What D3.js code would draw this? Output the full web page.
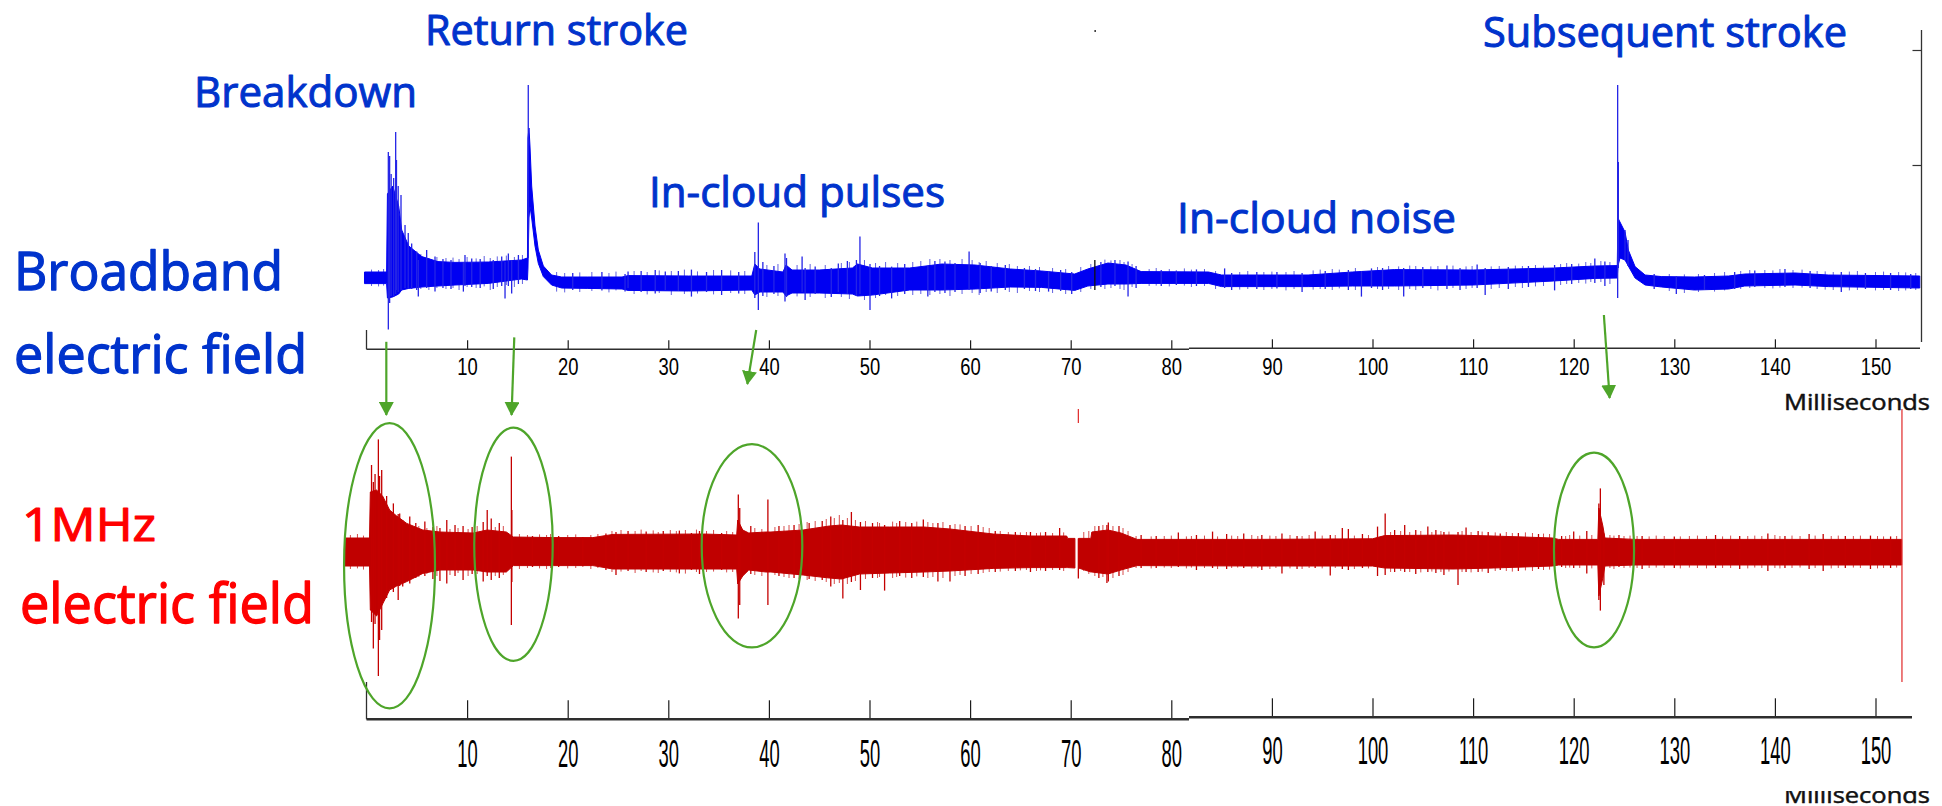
<!DOCTYPE html>
<html>
<head>
<meta charset="utf-8">
<script src="https://cdn.jsdelivr.net/npm/d3@7"></script>
<style>
  html, body { margin: 0; padding: 0; background: #fff; }
  svg { display: block; }
</style>
</head>
<body>
<svg id="chart" width="1942" height="806"></svg>
<script>
// ---------------------------------------------------------------
// Lightning flash record: broadband E-field vs 1 MHz E-field
// time in milliseconds, field in arbitrary units
// ---------------------------------------------------------------

// axis tick values (ms)
const ticksLeft  = [10, 20, 30, 40, 50, 60, 70, 80];
const ticksRight = [90, 100, 110, 120, 130, 140, 150];

// broadband field: noise envelope [time, upper, lower]
const broadbandEnvelope = [
  [-0.2, 0.3, -0.28], [2.0, 0.3, -0.28], [2.08, 4.2, -1.0], [2.6, 4.6, -0.95],
  [3.2, 3.6, -0.8], [3.5, 2.4, -0.6], [4.2, 1.6, -0.52], [5.5, 1.07, -0.45],
  [7.1, 0.82, -0.4], [8.8, 0.78, -0.35], [12.1, 0.8, -0.27], [15.4, 0.9, -0.05],
  [16.0, 1.0, -0.1], [16.05, 7.0, 0.5], [16.15, 7.5, 3.0], [16.25, 6.6, 3.6],
  [16.42, 4.6, 3.0], [16.75, 2.6, 1.6], [17.08, 1.4, 0.73], [17.58, 0.6, 0.07],
  [18.4, 0.15, -0.35], [19.4, 0.05, -0.5], [22.0, 0.05, -0.52], [25.4, 0.05, -0.55],
  [26.0, 0.12, -0.62], [32.0, 0.1, -0.65], [38.3, 0.1, -0.6], [38.6, 0.7, -0.85],
  [39.1, 0.45, -0.7], [41.4, 0.3, -0.7], [41.7, 0.65, -0.9], [42.3, 0.4, -0.75],
  [45.0, 0.4, -0.75], [48.3, 0.5, -0.8], [48.8, 0.7, -0.9], [50.3, 0.5, -0.85],
  [54.0, 0.5, -0.6], [57.2, 0.7, -0.6], [60.5, 0.65, -0.55], [64.0, 0.45, -0.45],
  [67.1, 0.35, -0.47], [70.4, 0.2, -0.62], [71.7, 0.45, -0.4], [73.7, 0.75, -0.3],
  [75.5, 0.65, -0.3], [77.0, 0.32, -0.27], [83.7, 0.3, -0.27], [85.0, 0.15, -0.43],
  [93.6, 0.15, -0.43], [98.0, 0.3, -0.4], [102.2, 0.42, -0.4], [110.0, 0.4, -0.35],
  [118.0, 0.5, -0.15], [122.1, 0.6, -0.02], [124.33, 0.62, 0.0], [124.4, 3.0, 0.6],
  [124.6, 2.8, 1.0], [125.1, 2.3, 0.9], [125.43, 1.4, 0.6], [126.1, 0.57, 0.0],
  [127.1, 0.15, -0.35], [128.75, 0.07, -0.45], [132.0, 0.05, -0.6], [135.4, 0.1, -0.55],
  [137.0, 0.2, -0.4], [142.0, 0.25, -0.35], [145.3, 0.15, -0.43], [154.4, 0.1, -0.5]
];

// broadband field: individual pulses [time, max, min]
const broadbandPulses = [
  [2.17, 6.3, -2.57], [2.3, 6.1, -1.25], [2.45, 5.2, -0.9], [2.7, 5.0, -0.93],
  [2.9, 7.3, -0.8], [2.98, 5.9, -0.6], [3.15, 4.6, -0.7], [3.43, 4.15, -0.6],
  [3.83, 2.65, -0.5], [4.15, 2.25, -0.5], [4.49, 1.73, -0.55], [4.99, 1.32, -0.6],
  [5.15, 0.9, -0.93], [5.98, 1.4, -0.5], [6.81, 1.07, -0.68], [7.6, 0.95, -0.5],
  [8.4, 0.9, -0.55], [9.63, 0.8, -0.68], [9.79, 1.15, -0.4], [10.46, 0.98, -0.45],
  [11.3, 0.95, -0.5], [12.6, 0.9, -0.55], [13.44, 1.07, -0.4], [13.77, 0.8, -1.02],
  [14.1, 1.23, -0.4], [14.43, 0.9, -0.77], [15.1, 1.15, -0.3], [16.08, 9.65, 1.0],
  [20.5, 0.25, -0.6], [23.4, 0.3, -0.62], [25.7, 0.2, -0.68], [26.0, 0.32, -0.5],
  [27.3, 0.35, -0.7], [28.7, 0.4, -0.77], [29.7, 0.32, -0.6], [31.0, 0.35, -0.65],
  [32.3, 0.42, -0.93], [33.8, 0.3, -0.7], [35.3, 0.4, -0.85], [37.0, 0.3, -0.77],
  [38.6, 1.3, -1.0], [38.95, 2.77, -1.6], [39.4, 0.8, -0.9], [40.5, 0.6, -0.8],
  [41.6, 1.23, -1.18], [41.75, 1.0, -0.95], [43.3, 1.07, -0.7], [43.6, 0.5, -1.1],
  [44.6, 0.57, -0.8], [46.2, 0.5, -0.95], [46.9, 0.72, -0.7], [47.8, 0.85, -0.8],
  [48.7, 0.9, -0.9], [49.05, 2.07, -0.8], [50.05, 0.7, -1.6],
  [51.0, 0.6, -0.9], [52.2, 0.57, -1.02], [53.5, 0.7, -0.8], [55.8, 0.6, -0.93],
  [56.5, 0.85, -0.7], [57.5, 0.82, -0.75], [58.5, 0.75, -0.7], [59.9, 1.32, -0.6],
  [61.0, 0.75, -0.75], [62.1, 0.6, -0.68], [63.5, 0.65, -0.6], [65.4, 0.5, -0.55],
  [66.5, 0.45, -0.65], [67.8, 0.35, -0.68], [69.0, 0.4, -0.65], [70.1, 0.3, -0.8],
  [73.0, 0.8, -0.45], [74.4, 0.9, -0.4], [75.7, 0.82, -0.93], [76.5, 0.6, -0.5],
  [79.0, 0.4, -0.4], [80.5, 0.38, -0.35], [82.5, 0.43, -0.4], [85.3, 0.48, -0.5],
  [86.0, 0.25, -0.6], [88.5, 0.3, -0.55], [90.5, 0.3, -0.52], [93.0, 0.25, -0.7],
  [95.3, 0.35, -0.55], [97.6, 0.4, -0.6], [98.9, 0.35, -0.93], [99.9, 0.48, -0.5],
  [101.0, 0.5, -0.6], [103.1, 0.5, -0.93], [105.0, 0.55, -0.5], [107.4, 0.62, -0.55],
  [108.7, 0.5, -0.6], [110.4, 0.68, -0.5], [111.2, 0.5, -0.85], [113.5, 0.55, -0.55],
  [115.5, 0.6, -0.45], [118.1, 0.65, -0.62], [119.8, 0.7, -0.3], [122.1, 0.98, -0.25],
  [123.1, 0.82, -0.4], [124.37, 9.65, -1.0], [124.44, 5.8, 0.5], [125.1, 2.4, 0.9],
  [125.4, 1.9, 0.6], [128.0, 0.2, -0.55], [130.2, 0.1, -0.8], [133.0, 0.15, -0.6],
  [136.0, 0.3, -0.55], [138.0, 0.38, -0.45], [141.0, 0.45, -0.45], [143.5, 0.35, -0.5],
  [146.6, 0.3, -0.7], [149.0, 0.25, -0.55], [151.5, 0.25, -0.6], [153.5, 0.2, -0.55]
];

// broadband field: small noise excursions along the band edge [time, max, min]
const broadbandFringe = [
  [0.5, 0.42, -0.4], [1.2, 0.4, -0.42], [1.7, 0.45, -0.38],
  [5.4, 1.2, -0.55], [6.2, 1.0, -0.6], [7.0, 1.05, -0.5], [7.9, 1.0, -0.55], [8.6, 1.02, -0.5],
  [9.2, 0.95, -0.6], [10.0, 1.05, -0.45], [10.9, 0.98, -0.5], [11.7, 1.1, -0.42], [12.3, 1.0, -0.6],
  [13.0, 1.08, -0.45], [13.9, 1.12, -0.35], [14.7, 1.05, -0.45], [15.5, 1.15, -0.3],
  [18.9, 0.3, -0.68], [19.7, 0.25, -0.72], [21.2, 0.28, -0.7], [22.4, 0.3, -0.65], [24.1, 0.25, -0.72],
  [24.8, 0.32, -0.62], [26.6, 0.35, -0.8], [27.9, 0.3, -0.82], [29.1, 0.38, -0.75], [30.3, 0.35, -0.85],
  [31.6, 0.42, -0.8], [32.9, 0.33, -0.78], [34.5, 0.4, -0.82], [36.2, 0.38, -0.75], [37.6, 0.35, -0.8],
  [39.8, 0.65, -0.95], [40.9, 0.7, -0.9], [42.8, 0.65, -0.92], [44.1, 0.7, -0.95], [45.6, 0.65, -1.0],
  [47.2, 0.75, -0.95], [48.0, 0.8, -1.05], [49.5, 0.9, -1.1], [50.6, 0.75, -1.0], [51.6, 0.8, -0.85],
  [52.8, 0.75, -0.9], [54.3, 0.8, -0.85], [55.1, 0.85, -0.8], [56.0, 0.95, -0.85], [57.0, 0.95, -0.8],
  [58.0, 0.9, -0.9], [59.2, 0.95, -0.8], [60.2, 0.9, -0.75], [60.9, 0.8, -0.85], [61.6, 0.85, -0.7],
  [62.7, 0.75, -0.75], [63.9, 0.7, -0.7], [64.7, 0.6, -0.75], [65.9, 0.6, -0.65], [66.9, 0.55, -0.7],
  [68.2, 0.5, -0.75], [69.5, 0.45, -0.8], [71.0, 0.55, -0.7], [72.0, 0.7, -0.55], [73.4, 0.92, -0.55],
  [74.0, 0.88, -0.5], [74.9, 0.9, -0.55], [75.3, 0.8, -0.6], [76.1, 0.7, -0.45], [77.8, 0.45, -0.4],
  [78.5, 0.5, -0.38], [79.8, 0.45, -0.42], [81.3, 0.48, -0.38], [82.0, 0.42, -0.45], [83.3, 0.45, -0.4],
  [84.4, 0.35, -0.55], [86.8, 0.3, -0.58], [87.6, 0.35, -0.55], [89.2, 0.3, -0.6], [90.0, 0.32, -0.55],
  [91.4, 0.3, -0.62], [92.2, 0.35, -0.55], [94.1, 0.38, -0.58], [94.8, 0.42, -0.55], [96.0, 0.45, -0.6],
  [96.7, 0.42, -0.52], [98.3, 0.5, -0.6], [100.5, 0.55, -0.55], [101.6, 0.6, -0.55], [102.6, 0.58, -0.6],
  [103.7, 0.62, -0.55], [104.3, 0.6, -0.6], [105.8, 0.58, -0.55], [106.5, 0.6, -0.62], [108.0, 0.62, -0.5],
  [109.3, 0.58, -0.55], [109.9, 0.6, -0.5], [111.8, 0.58, -0.55], [112.6, 0.6, -0.5], [114.2, 0.62, -0.45],
  [114.9, 0.6, -0.5], [116.2, 0.65, -0.42], [117.0, 0.62, -0.4], [118.7, 0.7, -0.35], [119.3, 0.75, -0.3],
  [120.5, 0.72, -0.25], [121.2, 0.8, -0.28], [121.7, 0.75, -0.2], [122.7, 0.85, -0.2], [123.6, 0.8, -0.3],
  [129.5, 0.2, -0.65], [131.0, 0.18, -0.75], [132.4, 0.2, -0.7], [134.0, 0.25, -0.68], [135.0, 0.3, -0.62],
  [136.6, 0.35, -0.55], [137.5, 0.4, -0.5], [139.0, 0.4, -0.5], [139.8, 0.38, -0.52], [140.5, 0.45, -0.48],
  [141.8, 0.4, -0.5], [142.7, 0.42, -0.48], [144.2, 0.35, -0.55], [145.0, 0.33, -0.58], [145.8, 0.3, -0.6],
  [147.4, 0.32, -0.62], [148.2, 0.35, -0.6], [150.0, 0.3, -0.62], [150.8, 0.32, -0.6], [152.3, 0.3, -0.65],
  [153.0, 0.28, -0.62], [154.0, 0.25, -0.6]
];

// broadband record: sync marks [time, top, bottom]
const broadbandMarks = [[72.4, 0.9, -0.6], [72.43, 12.4, 12.3]];

// 1 MHz field: noise envelope [time, upper, lower]; null = dropout
const hfEnvelope = [
  [-2.14, 0.7, -0.7], [0.3, 0.7, -0.7], [0.38, 3.0, -2.9], [1.0, 3.1, -3.2],
  [1.6, 2.8, -2.6], [2.3, 2.1, -1.9], [3.0, 1.8, -1.7], [4.0, 1.43, -1.48],
  [5.6, 1.1, -1.07], [7.3, 1.0, -0.9], [10.6, 0.95, -0.9], [12.0, 1.1, -1.0],
  [13.9, 1.0, -1.0], [14.6, 0.75, -0.68], [18.6, 0.72, -0.68], [22.5, 0.72, -0.68],
  [24.5, 0.88, -0.85], [33.5, 0.9, -0.85], [36.8, 0.85, -0.85], [36.9, 1.6, -1.6],
  [37.4, 1.1, -1.2], [38.0, 0.95, -0.9], [39.7, 1.0, -1.0], [40.2, 1.0, -1.0],
  [43.4, 1.1, -1.15], [46.0, 1.3, -1.3], [47.2, 1.35, -1.35], [49.0, 1.25, -1.1],
  [52.0, 1.25, -1.05], [55.4, 1.25, -1.0], [58.0, 1.15, -0.95], [62.3, 0.9, -0.82],
  [66.0, 0.8, -0.78], [69.6, 0.8, -0.78], [69.7, 0.68, -0.78], [70.42, 0.68, -0.8],
  [70.5, null, null], [70.7, null, null],
  [70.78, 0.68, -0.8], [72.0, 0.68, -1.0], [72.1, 1.0, -1.0], [73.7, 1.1, -1.1],
  [75.0, 0.95, -0.9], [76.6, 0.63, -0.68], [88.0, 0.63, -0.7], [100.0, 0.66, -0.7],
  [101.2, 0.82, -0.8], [108.0, 0.85, -0.85], [112.0, 0.8, -0.8], [117.9, 0.7, -0.7],
  [118.5, 0.63, -0.65], [122.4, 0.63, -0.65], [122.5, 2.2, -2.2], [122.9, 1.3, -1.3],
  [123.1, 0.7, -0.7], [126.1, 0.63, -0.65], [152.6, 0.63, -0.65]
];

// 1 MHz field: individual pulses [time, max, min]
const hfPulses = [
  [0.5, 4.35, -3.5], [0.68, 3.5, -4.82], [0.85, 3.9, -3.6], [1.18, 5.63, -6.2],
  [1.3, 3.8, -4.4], [1.51, 4.1, -3.9], [2.0, 2.8, -2.3], [2.67, 2.43, -2.0],
  [3.15, 1.9, -2.4], [3.3, 1.93, -1.7], [3.6, 1.6, -1.73], [4.3, 1.77, -1.57],
  [4.9, 1.45, -1.3], [5.8, 1.52, -1.2], [6.6, 1.25, -1.35], [7.3, 1.2, -1.45],
  [7.98, 1.6, -1.57], [8.8, 1.35, -1.2], [9.6, 1.3, -1.4], [10.5, 1.25, -1.1],
  [11.6, 1.5, -1.48], [12.0, 2.1, -1.2], [12.4, 1.68, -1.4], [13.2, 1.45, -1.3],
  [14.4, 4.77, -3.65], [14.45, 2.1, -1.5], [16.5, 0.8, -0.75], [19.1, 0.8, -0.75],
  [21.5, 0.75, -0.72], [23.8, 0.93, -0.9], [24.8, 1.0, -1.15], [26.0, 1.05, -0.95],
  [27.8, 1.02, -1.0], [29.5, 1.05, -0.95], [31.1, 1.07, -1.07], [32.3, 0.95, -0.9],
  [33.1, 1.05, -1.1], [35.3, 0.95, -0.9], [36.96, 2.88, -3.32], [37.1, 2.2, -2.65],
  [38.2, 1.3, -1.1], [39.9, 2.63, -2.65], [41.0, 1.3, -1.2], [42.5, 1.35, -1.3],
  [44.0, 1.45, -1.35], [45.3, 1.55, -1.4], [46.15, 1.77, -1.73], [47.35, 1.6, -2.32],
  [48.2, 2.0, -1.5], [49.1, 1.5, -1.9], [50.3, 1.45, -1.3], [51.5, 1.35, -1.93],
  [53.0, 1.55, -1.2], [54.2, 1.45, -1.3], [55.35, 1.63, -1.25], [56.8, 1.45, -1.48],
  [58.0, 1.35, -1.48], [59.5, 1.3, -1.2], [60.8, 1.35, -1.1], [62.5, 1.05, -1.0],
  [64.5, 1.0, -0.95], [66.0, 1.0, -1.0], [67.5, 1.0, -0.95], [68.9, 1.2, -0.9],
  [70.76, 0.68, -1.32], [72.8, 1.3, -1.3], [73.6, 1.35, -1.55], [73.74, 1.47, -1.48],
  [74.8, 1.3, -1.2], [77.0, 0.85, -0.8], [78.5, 0.8, -0.8], [80.7, 0.98, -0.75],
  [82.5, 0.85, -0.9], [84.1, 1.02, -0.8], [85.5, 0.9, -0.85], [87.2, 0.93, -0.8],
  [89.0, 0.85, -0.9], [91.0, 0.93, -1.07], [92.5, 0.8, -0.85], [94.3, 1.02, -0.8],
  [95.8, 0.85, -1.17], [97.0, 1.2, -0.85], [97.6, 1.15, -0.9], [99.0, 0.9, -0.8],
  [100.5, 1.27, -1.2], [101.26, 1.93, -1.15], [102.2, 1.1, -1.0], [103.2, 1.35, -1.0],
  [104.3, 1.1, -1.1], [105.5, 1.27, -1.0], [106.3, 1.1, -1.05], [107.1, 1.0, -1.15],
  [108.5, 1.0, -1.65], [109.3, 1.22, -1.0], [110.5, 1.05, -1.0], [111.5, 1.0, -1.05],
  [112.7, 0.93, -0.9], [114.5, 0.95, -0.95], [116.5, 0.9, -0.85], [118.8, 0.8, -0.75],
  [120.0, 1.02, -0.8], [121.3, 1.05, -1.07], [122.5, 2.43, -2.4], [122.65, 3.18, -2.93],
  [123.0, 0.93, -1.65], [124.5, 0.85, -0.75], [126.8, 0.8, -0.85], [130.0, 0.78, -0.8],
  [134.1, 0.85, -0.8], [136.5, 0.8, -0.85], [139.3, 0.93, -0.95], [141.0, 0.8, -0.8],
  [143.4, 0.9, -0.85], [144.8, 0.9, -0.95], [147.0, 0.8, -0.8], [149.5, 0.82, -0.85],
  [151.5, 0.78, -0.8]
];

// 1 MHz field: small noise excursions along the band edge [time, max, min]
const hfFringe = [
  [-1.6, 0.85, -0.85], [-0.9, 0.9, -0.82], [-0.3, 0.82, -0.88],
  [5.2, 1.3, -1.25], [6.0, 1.2, -1.1], [7.0, 1.3, -1.2], [8.3, 1.15, -1.15], [9.1, 1.2, -1.05],
  [10.1, 1.15, -1.2], [11.0, 1.3, -1.1], [12.8, 1.25, -1.2], [13.6, 1.3, -1.15],
  [15.2, 0.9, -0.85], [16.0, 0.85, -0.8], [17.2, 0.88, -0.82], [17.9, 0.85, -0.85], [18.3, 0.9, -0.8],
  [20.0, 0.85, -0.82], [20.8, 0.88, -0.8], [22.3, 0.85, -0.85], [23.0, 0.9, -0.8],
  [24.4, 1.05, -1.0], [25.3, 1.1, -0.98], [26.7, 1.05, -1.05], [27.3, 1.12, -0.95], [28.5, 1.08, -1.02],
  [29.0, 1.0, -1.05], [30.2, 1.1, -1.0], [30.8, 1.05, -1.02], [31.7, 1.1, -1.08], [32.8, 1.12, -1.0],
  [33.8, 1.05, -1.0], [34.5, 1.1, -0.98], [35.8, 1.05, -1.02], [36.4, 1.0, -1.0],
  [38.6, 1.2, -1.15], [39.3, 1.15, -1.2], [40.6, 1.25, -1.15], [41.5, 1.3, -1.25], [42.0, 1.35, -1.3],
  [43.0, 1.4, -1.35], [43.8, 1.5, -1.4], [44.6, 1.55, -1.45], [45.7, 1.65, -1.5], [46.5, 1.7, -1.6],
  [47.0, 1.85, -1.55], [47.8, 1.7, -1.6], [48.6, 1.6, -1.45], [49.6, 1.55, -1.35], [50.8, 1.5, -1.3],
  [51.0, 1.45, -1.25], [52.3, 1.52, -1.3], [52.7, 1.45, -1.25], [53.6, 1.5, -1.28], [54.7, 1.52, -1.22],
  [55.8, 1.5, -1.3], [56.3, 1.45, -1.25], [57.3, 1.5, -1.3], [58.5, 1.4, -1.2], [59.0, 1.38, -1.15],
  [60.1, 1.3, -1.1], [61.3, 1.25, -1.05], [61.9, 1.2, -1.0], [63.0, 1.05, -0.98], [63.8, 1.0, -0.95],
  [65.0, 0.98, -0.92], [65.6, 1.0, -0.9], [66.6, 0.95, -0.95], [67.0, 0.98, -0.92], [68.2, 0.95, -0.9],
  [69.3, 0.98, -0.95],
  [71.3, 1.0, -0.95], [71.8, 1.05, -1.1], [72.4, 1.3, -1.2], [73.2, 1.35, -1.25], [74.2, 1.3, -1.3],
  [75.2, 1.2, -1.15], [75.7, 1.05, -1.0],
  [76.5, 0.8, -0.8], [78.0, 0.78, -0.82], [79.3, 0.8, -0.78], [80.0, 0.82, -0.8], [81.5, 0.78, -0.82],
  [82.0, 0.8, -0.78], [83.3, 0.82, -0.8], [84.6, 0.78, -0.85], [86.0, 0.82, -0.8], [86.6, 0.8, -0.78],
  [88.0, 0.85, -0.82], [88.6, 0.8, -0.8], [89.8, 0.82, -0.85], [90.4, 0.8, -0.8], [91.8, 0.85, -0.82],
  [93.0, 0.8, -0.85], [93.7, 0.85, -0.8], [95.0, 0.82, -0.82], [96.3, 0.85, -0.8], [98.2, 0.82, -0.85],
  [99.6, 0.85, -0.82],
  [101.8, 1.0, -1.0], [102.8, 1.05, -0.95], [103.7, 1.0, -1.0], [104.8, 1.05, -1.02], [105.9, 1.0, -0.98],
  [106.8, 1.05, -1.0], [107.6, 1.02, -0.98], [108.9, 1.05, -1.0], [109.8, 1.0, -1.02], [110.9, 1.02, -0.98],
  [112.2, 0.98, -0.95], [113.3, 1.0, -0.95], [113.9, 0.95, -0.98], [115.2, 0.98, -0.92], [115.9, 0.95, -0.95],
  [117.0, 0.92, -0.9], [117.6, 0.9, -0.88],
  [119.2, 0.8, -0.8], [119.6, 0.85, -0.78], [120.6, 0.82, -0.8], [121.8, 0.85, -0.82], [123.6, 0.85, -0.8],
  [124.0, 0.82, -0.85], [125.0, 0.8, -0.8], [125.6, 0.82, -0.78], [126.3, 0.8, -0.8], [127.5, 0.78, -0.8],
  [128.2, 0.82, -0.78], [129.0, 0.8, -0.8], [130.6, 0.78, -0.82], [131.5, 0.8, -0.78], [132.3, 0.82, -0.8],
  [133.2, 0.8, -0.82], [134.8, 0.78, -0.8], [135.6, 0.82, -0.8], [137.3, 0.8, -0.82], [138.0, 0.82, -0.78],
  [138.7, 0.8, -0.8], [140.0, 0.85, -0.8], [140.5, 0.8, -0.82], [141.7, 0.82, -0.8], [142.5, 0.8, -0.78],
  [144.0, 0.82, -0.8], [145.6, 0.8, -0.82], [146.3, 0.82, -0.8], [147.8, 0.8, -0.78], [148.5, 0.82, -0.8],
  [150.2, 0.8, -0.82], [150.8, 0.78, -0.8], [152.1, 0.8, -0.78]
];

// 1 MHz record: trigger marks [time, top, bottom]
const hfMarks = [[70.76, 7.15, 6.45], [152.63, 7.15, -6.5]];

// matched events: time, half-span (ms), level and half-height (1 MHz units)
const eventTime       = [2.29, 14.61, 38.32, 122.02];
const eventHalfSpan   = [4.52, 3.9, 5.0, 3.98];
const eventLevel      = [-0.69, 0.385, 0.31, 0.1];
const eventHalfHeight = [7.13, 5.83, 5.08, 4.87];

// links from broadband features down to 1 MHz events
const linkFromTime  = [1.97, 14.69, 38.74, 123.0];
const linkFromLevel = [-3.19, -2.97, -2.6, -1.85];   // broadband units
const linkToTime    = [1.97, 14.42, 37.86, 123.57];
const linkToLevel   = [6.85, 6.85, 8.4, 7.7];         // 1 MHz units

// broadband amplitude ticks on the right-hand axis
const broadbandAxisTicks = [5.65, 11.4];

// ---------------------------------------------------------------
const svg = d3.select('#chart');
const BLUE_TXT = '#0033cc', BLUE = '#0000f2', RED = '#c00000', GREEN = '#4ea52a';

const x    = d3.scaleLinear().domain([0, 150]).range([366.5, 1875.5]);
const yTop = d3.scaleLinear().domain([-3, 10]).range([338, 78]);
const yBot = d3.scaleLinear().domain([-7, 7]).range([692, 412]);

svg.append('rect').attr('width', 1942).attr('height', 806).attr('fill', '#fff');

const defs = svg.append('defs');
defs.append('marker').attr('id', 'head')
  .attr('viewBox', '0 0 14 15').attr('markerWidth', 14).attr('markerHeight', 15)
  .attr('markerUnits', 'userSpaceOnUse').attr('refX', 13).attr('refY', 7.5).attr('orient', 'auto')
  .append('path').attr('d', 'M0,0 L14,7.5 L0,15 Z').attr('fill', GREEN);
defs.append('clipPath').attr('id', 'cutLabel')
  .append('rect').attr('x', 1700).attr('y', 791).attr('width', 242).attr('height', 20);

// --- waveform drawing ---
function verticals(g, rows, ys, color, width, opacity) {
  g.append('g').selectAll('line').data(rows).join('line')
    .attr('x1', d => x(d[0])).attr('x2', d => x(d[0]))
    .attr('y1', d => ys(d[1])).attr('y2', d => ys(d[2]))
    .attr('stroke', color).attr('stroke-width', width).attr('stroke-opacity', opacity);
}
function waveform(envelope, fringe, pulses, ys, color, fringeColor, pulseColor) {
  const g = svg.append('g');
  verticals(g, fringe, ys, fringeColor, 1, 0.8);
  const area = d3.area()
    .defined(d => d[1] != null)
    .x(d => x(d[0])).y0(d => ys(d[2])).y1(d => ys(d[1]));
  g.append('path').datum(envelope).attr('d', area)
    .attr('fill', color).attr('stroke', color).attr('stroke-width', 1).attr('stroke-linejoin', 'round');
  verticals(g, pulses, ys, pulseColor, 1.3, 1);
  return g;
}

waveform(broadbandEnvelope, broadbandFringe, broadbandPulses, yTop, BLUE, '#3b3bd8', '#2424e6');
verticals(svg, broadbandMarks, yTop, '#111', 1.3, 1);

waveform(hfEnvelope, hfFringe, hfPulses, yBot, RED, '#cc2020', '#c40000');
verticals(svg, hfMarks, yBot, '#e02828', 1.2, 1);

// --- time axes ---
function timeAxis(ticks, yAxis, tickLen, labelBase, sx, sy, lineW, fromX, toX) {
  const g = svg.append('g').attr('transform', `translate(0,${yAxis})`)
    .call(d3.axisBottom(x).tickValues(ticks).tickSize(-tickLen).tickSizeOuter(0));
  g.select('.domain').remove();
  g.selectAll('.tick line').attr('stroke', '#1c1c1c').attr('stroke-width', 1.2);
  g.selectAll('.tick text')
    .attr('y', null).attr('dy', null)
    .attr('transform', `translate(0,${labelBase}) scale(${sx},${sy})`)
    .attr('font-family', '"Liberation Sans", Arial, sans-serif')
    .attr('font-size', 20).attr('fill', '#000');
  g.append('line').attr('x1', fromX).attr('x2', toX)
    .attr('stroke', '#2e2e2e').attr('stroke-width', lineW);
}
const breakX = 1189;
timeAxis(ticksLeft,  349.3, 9, 25.7, 0.92, 1.17, 1.6, x(0), breakX);
timeAxis(ticksRight, 348.3, 9, 26.5, 0.92, 1.17, 1.6, breakX, 1920);
timeAxis(ticksLeft,  719.3, 19, 47.2, 0.92, 1.96, 2.4, x(0), breakX);
timeAxis(ticksRight, 717.3, 19, 46.7, 0.92, 1.96, 2.4, breakX, 1912);

// left y-axis stubs
svg.append('line').attr('x1', x(0)).attr('x2', x(0)).attr('y1', 330).attr('y2', 349.3)
  .attr('stroke', '#2e2e2e').attr('stroke-width', 1.3);
svg.append('line').attr('x1', x(0)).attr('x2', x(0)).attr('y1', 682).attr('y2', 719.3)
  .attr('stroke', '#2e2e2e').attr('stroke-width', 1.3);

// right-hand broadband amplitude axis
const rAxis = svg.append('g').attr('transform', 'translate(1921.5,0)')
  .call(d3.axisLeft(yTop).tickValues(broadbandAxisTicks).tickSize(9).tickFormat(''));
rAxis.select('.domain').remove();
rAxis.selectAll('.tick line').attr('stroke', '#333').attr('stroke-width', 1.2);
rAxis.append('line').attr('y1', 30).attr('y2', 342).attr('stroke', '#333').attr('stroke-width', 1.3);

// --- matched-event ellipses and links ---
svg.append('g').selectAll('ellipse').data(eventTime).join('ellipse')
  .attr('cx', (t) => x(t))
  .attr('cy', (t, i) => yBot(eventLevel[i]))
  .attr('rx', (t, i) => x(t + eventHalfSpan[i]) - x(t))
  .attr('ry', (t, i) => yBot(eventLevel[i] - eventHalfHeight[i]) - yBot(eventLevel[i]))
  .attr('fill', 'none').attr('stroke', GREEN).attr('stroke-width', 2.2);

svg.append('g').selectAll('line').data(linkFromTime).join('line')
  .attr('x1', (t) => x(t)).attr('y1', (t, i) => yTop(linkFromLevel[i]))
  .attr('x2', (t, i) => x(linkToTime[i])).attr('y2', (t, i) => yBot(linkToLevel[i]))
  .attr('stroke', GREEN).attr('stroke-width', 2.2).attr('marker-end', 'url(#head)');

// --- text ---
function label(txt, x0, base, size, width, color, weight, clip) {
  const t = svg.append('text').attr('x', x0).attr('y', base)
    .attr('font-family', '"Open Sans", "Noto Sans", sans-serif').attr('font-size', size)
    .attr('fill', color).attr('stroke', color).attr('stroke-width', weight)
    .attr('stroke-linejoin', 'round')
    .attr('textLength', width).attr('lengthAdjust', 'spacingAndGlyphs')
    .text(txt);
  if (clip) t.attr('clip-path', `url(#${clip})`);
}
label('Breakdown',         194,  107.3, 42, 223, BLUE_TXT, 1.0);
label('Return stroke',     425,  45,    42, 263, BLUE_TXT, 1.0);
label('In-cloud pulses',   649,  206.7, 42, 296, BLUE_TXT, 1.0);
label('In-cloud noise',    1177, 233.3, 42, 279, BLUE_TXT, 1.0);
label('Subsequent stroke', 1483, 46.7,  42, 364, BLUE_TXT, 1.0);

label('Broadband',         14, 290,   53, 269, BLUE_TXT, 1.3);
label('electric field',    14, 373.3, 53, 293, BLUE_TXT, 1.3);
label('1MHz',              22, 540.5, 45, 134, '#ff0000', 1.1);
label('electric field',    20, 622.7, 54, 294, '#ff0000', 1.3);

label('Milliseconds', 1784, 410, 22, 146, '#111', 0.5);
label('Milliseconds', 1784, 803, 22, 146, '#111', 0.5, 'cutLabel');
</script>
</body>
</html>
